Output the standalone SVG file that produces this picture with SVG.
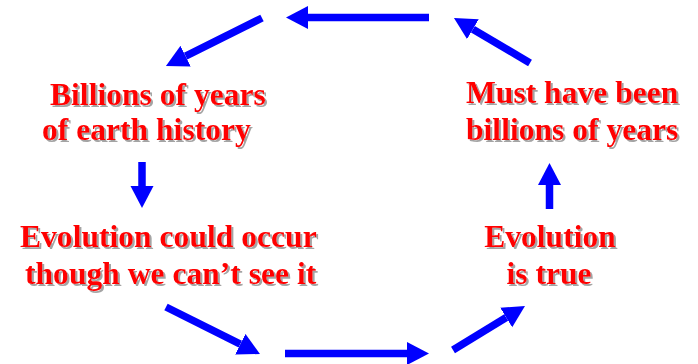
<svg xmlns="http://www.w3.org/2000/svg" width="698" height="364" viewBox="0 0 698 364">
<defs>
<marker id="ah" markerUnits="userSpaceOnUse" viewBox="0 -12 23 24" markerWidth="23" markerHeight="24" refX="0" refY="0" orient="auto">
<path d="M0,-11.5 L22,0 L0,11.5 Z" fill="#0000FF"/>
</marker>
<filter id="sh" x="-5%" y="-20%" width="110%" height="150%">
<feDropShadow dx="2" dy="2" stdDeviation="0.6" flood-color="#9a9a9a" flood-opacity="0.9"/>
</filter>
</defs>
<style>
.lbl{font-family:"Liberation Serif","Times New Roman",serif;font-weight:bold;font-size:31.6px;fill:#FF0000;filter:url(#sh)}
.arr{stroke:#0000FF;stroke-width:7.5;fill:none;marker-end:url(#ah)}
</style>
<rect width="698" height="364" fill="#FFFFFF"/>
<g id="connectors">
<line class="arr" x1="429" y1="17.5" x2="308" y2="17.5"/>
<line class="arr" x1="262" y1="18" x2="185.6" y2="56.1"/>
<line class="arr" x1="142" y1="162" x2="142" y2="186"/>
<line class="arr" x1="166" y1="307" x2="240.3" y2="344.2"/>
<line class="arr" x1="285" y1="353.5" x2="407" y2="353.5"/>
<line class="arr" x1="453" y1="350" x2="506.2" y2="317.5"/>
<line class="arr" x1="549.5" y1="209" x2="549.5" y2="185"/>
<line class="arr" x1="530" y1="63" x2="472.9" y2="29.2"/>
</g>
<g id="node-billions">
<text class="lbl" x="50" y="105">Billions of years</text>
<text class="lbl" x="42" y="140">of earth history</text>
</g>
<g id="node-evolution-could">
<text class="lbl" x="20" y="247">Evolution could occur</text>
<text class="lbl" x="25" y="284">though we can’t see it</text>
</g>
<g id="node-evolution-true">
<text class="lbl" x="550" y="247" text-anchor="middle">Evolution</text>
<text class="lbl" x="549" y="284" text-anchor="middle">is true</text>
</g>
<g id="node-must-have">
<text class="lbl" x="466" y="103">Must have been</text>
<text class="lbl" x="466" y="140">billions of years</text>
</g>
</svg>
